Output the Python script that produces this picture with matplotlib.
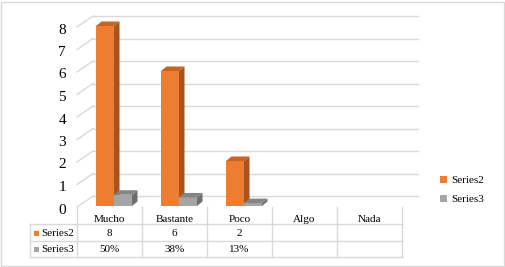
import matplotlib.pyplot as plt
from matplotlib.patches import Polygon, Rectangle, Patch

categories = ['Mucho', 'Bastante', 'Poco', 'Algo', 'Nada']
series2 = [8, 6, 2, None, None]
series3 = [0.50, 0.38, 0.13, None, None]
series3_labels = ['50%', '38%', '13%', '', '']
yticks = list(range(0, 9))

orange = ['#ED7D31', '#A9531F', '#C4632A']   # front, side, top
gray = ['#A5A5A5', '#6F6F6F', '#858585']
grid_c = '#D9D9D9'
serif = 'Liberation Serif'

W, H = 505, 267
fig = plt.figure(figsize=(W / 100, H / 100), dpi=100)
# plot area: 65 px per category, 22.5 px per unit
ux, uy = 65.0, 22.5
ax = fig.add_axes([77 / W, (H - 207) / H, 341 / W, 197 / H])
ax.set_xlim(0, 341 / ux)
ax.set_ylim(0, 197 / uy)
ax.axis('off')

# wall depth offset
wdx, wdy = 16 / ux, 11 / uy
for v in yticks:
    ax.plot([wdx, len(categories) + wdx], [v + wdy, v + wdy], color=grid_c, lw=1, clip_on=False)
    ax.plot([0, wdx], [v, v + wdy], color=grid_c, lw=1, clip_on=False)
    ax.text(-11 / ux, v - 3 / uy, str(v), ha='right', va='center', fontsize=11,
            family=serif, clip_on=False)

# bars with fake 3d faces
bw = 18 / ux
off = 19 / ux
bdx, bdy = 5.5 / ux, 4.5 / uy
base = 1 / uy


def bar3d(xs, vals, cols):
    xs2 = [x for x, v in zip(xs, vals) if v is not None]
    vs = [v for v in vals if v is not None]
    ax.bar(xs2, vs, width=bw, bottom=base, align='edge', color=cols[0], lw=0, zorder=3)
    for x, v in zip(xs2, vs):
        x1 = x + bw
        ax.add_patch(Polygon([(x1, base), (x1 + bdx, base + bdy), (x1 + bdx, base + v + bdy),
                              (x1, base + v)], closed=True, fc=cols[1], lw=0, zorder=3))
        ax.add_patch(Polygon([(x, base + v), (x + bdx, base + v + bdy), (x1 + bdx, base + v + bdy),
                              (x1, base + v)], closed=True, fc=cols[2], lw=0, zorder=3))


pos = list(range(len(categories)))
bar3d([p + off for p in pos], series2, orange)
bar3d([p + off + bw for p in pos], series3, gray)

# data table
y_top, y_r1, y_r2, y_r3 = 0, -17 / uy, -34 / uy, -50 / uy
x_left = -47 / ux
n = len(categories)
for y in (y_r1, y_r2, y_r3):
    ax.plot([x_left, n], [y, y], color=grid_c, lw=1, clip_on=False)
for i in range(n + 1):
    ax.plot([i, i], [y_top, y_r3], color=grid_c, lw=1, clip_on=False)
ax.plot([x_left, x_left], [y_r1, y_r3], color=grid_c, lw=1, clip_on=False)

fs = 8
for i, c in enumerate(categories):
    ax.text(i + 0.5, -12 / uy, c, ha='center', va='center', fontsize=fs, family=serif, clip_on=False)
    s2 = '' if series2[i] is None else str(series2[i])
    ax.text(i + 0.5, -26 / uy, s2, ha='center', va='center', fontsize=fs, family=serif, clip_on=False)
    ax.text(i + 0.5, -42 / uy, series3_labels[i], ha='center', va='center', fontsize=fs,
            family=serif, clip_on=False)

sq = 5
for y, name, col in ((-26 / uy, 'Series2', orange[0]), (-42 / uy, 'Series3', gray[0])):
    ax.add_patch(Rectangle((-43 / ux, y - sq / 2 / uy), sq / ux, sq / uy, fc=col, lw=0, clip_on=False))
    ax.text(-36 / ux, y, name, ha='left', va='center', fontsize=fs, family=serif, clip_on=False)

# legend
handles = [Patch(fc=orange[0], label='Series2'), Patch(fc=gray[0], label='Series3')]
fig.legend(handles=handles, loc='center left', bbox_to_anchor=(430 / W, 1 - 190 / H),
           frameon=False, prop={'family': serif, 'size': 8}, handlelength=0.6,
           handleheight=0.6, handletextpad=0.4, labelspacing=0.9)

# chart border
fig.patches.append(Rectangle((0.5 / W, 1.5 / H), (W - 2) / W, (H - 3) / H, transform=fig.transFigure,
                             fill=False, ec=grid_c, lw=1))

fig.savefig('out.png', dpi=100)
